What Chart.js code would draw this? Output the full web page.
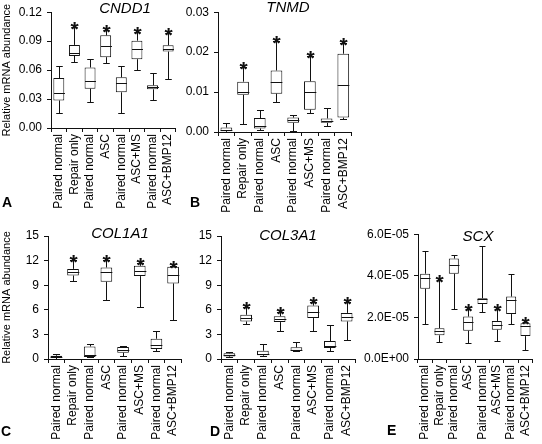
<!DOCTYPE html>
<html>
<head>
<meta charset="utf-8">
<script src="https://cdn.jsdelivr.net/npm/chart.js@4.4.0/dist/chart.umd.min.js"></script>
<style>
body { margin: 0; background: #fff; width: 542px; height: 444px; position: relative; overflow: hidden;
       font-family: "Liberation Sans", Arial, sans-serif; }
canvas { position: absolute; }
.letter { position: absolute; font-weight: bold; font-size: 14px; line-height: 14px; color: #000; }
</style>
</head>
<body>
<canvas id="chartA" width="185" height="215" style="left:0px;top:0px"></canvas>
<canvas id="chartB" width="180" height="215" style="left:180px;top:0px"></canvas>
<canvas id="chartC" width="190" height="222" style="left:0px;top:222px"></canvas>
<canvas id="chartD" width="180" height="222" style="left:185px;top:222px"></canvas>
<canvas id="chartE" width="182" height="222" style="left:360px;top:222px"></canvas>
<div class="letter" style="left:2px;top:195px">A</div>
<div class="letter" style="left:190px;top:195px">B</div>
<div class="letter" style="left:1px;top:424px">C</div>
<div class="letter" style="left:210px;top:424px">D</div>
<div class="letter" style="left:387px;top:423px">E</div>
<script>
var groups = ["Paired normal", "Repair only", "Paired normal", "ASC",
              "Paired normal", "ASC+MS", "Paired normal", "ASC+BMP12"];
var starred = [false, true, false, true, false, true, false, true];

// CNDD1
var cnddMin = [0.0158, 0.0689, 0.0271, 0.0669, 0.0158, 0.0603, 0.0291, 0.0511];
var cnddQ1  = [0.0285, 0.0747, 0.0408, 0.0734, 0.0370, 0.0713, 0.0401, 0.0792];
var cnddMed = [0.0360, 0.0782, 0.0483, 0.0850, 0.0470, 0.0823, 0.0422, 0.0823];
var cnddQ3  = [0.0518, 0.0861, 0.0627, 0.0960, 0.0525, 0.0905, 0.0442, 0.0857];
var cnddMax = [0.0645, 0.1046, 0.0713, 0.1018, 0.0641, 0.0998, 0.0566, 0.0984];
var cnddTicks = ["0.00", "0.03", "0.06", "0.09", "0.12"];

// TNMD
var tnmdMin = [0.0000, 0.0020, 0.0004, 0.0076, 0.0002, 0.0048, 0.0014, 0.0033];
var tnmdQ1  = [0.0002, 0.0093, 0.0009, 0.0096, 0.0023, 0.0056, 0.0023, 0.0036];
var tnmdMed = [0.0005, 0.0100, 0.0014, 0.0125, 0.0030, 0.0100, 0.0027, 0.0117];
var tnmdQ3  = [0.0011, 0.0126, 0.0035, 0.0154, 0.0036, 0.0127, 0.0034, 0.0196];
var tnmdMax = [0.0023, 0.0163, 0.0055, 0.0227, 0.0042, 0.0191, 0.0059, 0.0223];
var tnmdTicks = ["0.00", "0.01", "0.02", "0.03"];

// COL1A1
var col1Min = [0.04, 9.50, 0.20, 7.20, 0.42, 6.30, 0.92, 4.80];
var col1Q1  = [0.16, 10.18, 0.24, 9.42, 0.77, 10.11, 1.21, 9.22];
var col1Med = [0.28, 10.63, 0.44, 10.63, 1.10, 10.75, 1.74, 10.27];
var col1Q3  = [0.40, 10.99, 1.53, 11.16, 1.45, 11.36, 2.47, 11.24];
var col1Max = [0.56, 12.13, 1.82, 12.05, 1.60, 11.73, 3.44, 11.32];
var col1Ticks = ["0", "3", "6", "9", "12", "15"];

// COL3A1
var col3Min = [0.28, 4.26, 0.36, 3.44, 0.93, 3.44, 1.01, 2.30];
var col3Q1  = [0.32, 4.58, 0.45, 4.50, 1.01, 4.99, 1.34, 4.58];
var col3Med = [0.53, 4.99, 0.61, 4.90, 1.13, 5.70, 1.54, 5.13];
var col3Q3  = [0.69, 5.39, 1.01, 5.22, 1.42, 6.51, 2.18, 5.62];
var col3Max = [0.81, 6.40, 1.82, 5.70, 2.02, 7.00, 4.17, 7.00];
var col3Ticks = ["0", "3", "6", "9", "12", "15"];

// SCX
var scxMin = [1.66e-5, 0.82e-5, 2.40e-5, 0.79e-5, 2.27e-5, 0.87e-5, 1.69e-5, 0.43e-5];
var scxQ1  = [3.38e-5, 1.14e-5, 4.10e-5, 1.36e-5, 2.64e-5, 1.41e-5, 2.16e-5, 1.10e-5];
var scxMed = [3.90e-5, 1.33e-5, 4.53e-5, 1.77e-5, 2.87e-5, 1.64e-5, 2.84e-5, 1.58e-5];
var scxQ3  = [4.10e-5, 1.48e-5, 4.83e-5, 2.04e-5, 2.92e-5, 1.83e-5, 3.00e-5, 1.72e-5];
var scxMax = [5.19e-5, 3.82e-5, 5.00e-5, 2.40e-5, 5.45e-5, 2.40e-5, 4.09e-5, 1.77e-5];
var scxTicks = ["0.0E+00", "2.0E-05", "4.0E-05", "6.0E-05"];

var FONT = "'Liberation Sans', Arial, sans-serif";
var INK = "#111";

// whiskers, medians, stars and gene name drawn on top of the box bars
var boxPlugin = {
    id: "boxExtras",
    afterDatasetsDraw: function (chart) {
        var p = chart.options.plugins.boxExtras;
        var ctx = chart.ctx;
        var xs = chart.scales.x;
        var ys = chart.scales.y;
        var bars = chart.getDatasetMeta(0).data;
        ctx.save();
        ctx.strokeStyle = INK;
        ctx.lineWidth = 1;
        for (var i = 0; i < p.med.length; i++) {
            var cx = Math.round(xs.getPixelForValue(i)) + 0.5;
            var hw = bars[i].width / 2;
            var cap = hw * 0.6;
            var yMin = Math.round(ys.getPixelForValue(p.min[i])) + 0.5;
            var yQ1 = ys.getPixelForValue(p.q1[i]);
            var yQ3 = ys.getPixelForValue(p.q3[i]);
            var yMax = Math.round(ys.getPixelForValue(p.max[i])) + 0.5;
            var yMed = Math.round(ys.getPixelForValue(p.med[i])) + 0.5;
            ctx.beginPath();
            ctx.moveTo(cx, yQ3); ctx.lineTo(cx, yMax);
            ctx.moveTo(cx - cap, yMax); ctx.lineTo(cx + cap, yMax);
            ctx.moveTo(cx, yQ1); ctx.lineTo(cx, yMin);
            ctx.moveTo(cx - cap, yMin); ctx.lineTo(cx + cap, yMin);
            ctx.moveTo(cx - hw, yMed); ctx.lineTo(cx + hw, yMed);
            ctx.stroke();
            if (starred[i]) {
                ctx.fillStyle = INK;
                ctx.font = "bold 21px " + FONT;
                ctx.textAlign = "center";
                ctx.textBaseline = "alphabetic";
                ctx.fillText("*", cx, yMax + 8);
            }
        }
        ctx.fillStyle = "#000";
        ctx.font = "italic 15px " + FONT;
        ctx.textAlign = "center";
        ctx.textBaseline = "middle";
        ctx.fillText(p.gene, p.titleX, p.titleY);
        ctx.restore();
    }
};

function makePanel(id, gene, mins, q1s, meds, q3s, maxs, yMax, yStep, yLabels, area, titlePos, yTitle) {
    var canvas = document.getElementById(id);
    var w = canvas.width, h = canvas.height;
    var boxes = q1s.map(function (v, i) { return [v, q3s[i]]; });
    return new Chart(canvas, {
        type: "bar",
        data: {
            labels: groups,
            datasets: [{
                data: boxes,
                backgroundColor: "#fff",
                borderColor: INK,
                borderWidth: 1,
                borderSkipped: false,
                barPercentage: 0.7,
                categoryPercentage: 1.0
            }]
        },
        plugins: [boxPlugin],
        options: {
            responsive: false,
            animation: false,
            devicePixelRatio: 1,
            layout: { padding: { left: 0, top: area.top, right: w - area.right, bottom: 0 } },
            plugins: {
                legend: { display: false },
                tooltip: { enabled: false },
                boxExtras: { gene: gene, min: mins, q1: q1s, med: meds, q3: q3s, max: maxs,
                             titleX: titlePos[0], titleY: titlePos[1] }
            },
            scales: {
                x: {
                    type: "category",
                    grid: { display: true, drawOnChartArea: false, offset: true, color: INK, tickLength: 4 },
                    border: { display: true, color: INK, width: 1 },
                    ticks: { autoSkip: false, maxRotation: 90, minRotation: 90, padding: 2,
                             color: "#000", font: { family: FONT, size: 12 } },
                    afterFit: function (scale) { scale.height = h - area.bottom; }
                },
                y: {
                    min: 0,
                    max: yMax,
                    grid: { display: true, drawOnChartArea: false, color: INK, tickLength: 4 },
                    border: { display: true, color: INK, width: 1 },
                    ticks: {
                        stepSize: yStep,
                        padding: 5,
                        color: "#000",
                        font: { family: FONT, size: 12 },
                        callback: function (value, index) { return yLabels[index]; }
                    },
                    title: { display: !!yTitle, text: "Relative mRNA abundance", color: "#000",
                             padding: 0, font: { family: FONT, size: 11 } },
                    afterFit: function (scale) { scale.width = area.left; }
                }
            }
        }
    });
}

makePanel("chartA", "CNDD1", cnddMin, cnddQ1, cnddMed, cnddQ3, cnddMax, 0.12, 0.03, cnddTicks,
          { left: 51, top: 11, right: 178, bottom: 128 }, [125, 9], true);
makePanel("chartB", "TNMD", tnmdMin, tnmdQ1, tnmdMed, tnmdQ3, tnmdMax, 0.03, 0.01, tnmdTicks,
          { left: 38, top: 7, right: 175, bottom: 132 }, [108, 8], false);
makePanel("chartC", "COL1A1", col1Min, col1Q1, col1Med, col1Q3, col1Max, 15, 3, col1Ticks,
          { left: 48, top: 14, right: 182, bottom: 137 }, [120, 12], true);
makePanel("chartD", "COL3A1", col3Min, col3Q1, col3Med, col3Q3, col3Max, 15, 3, col3Ticks,
          { left: 36, top: 14, right: 170, bottom: 137 }, [103, 14], false);
makePanel("chartE", "SCX", scxMin, scxQ1, scxMed, scxQ3, scxMax, 6e-5, 2e-5, scxTicks,
          { left: 58, top: 10, right: 180, bottom: 137 }, [118, 15], false);
</script>
</body>
</html>
